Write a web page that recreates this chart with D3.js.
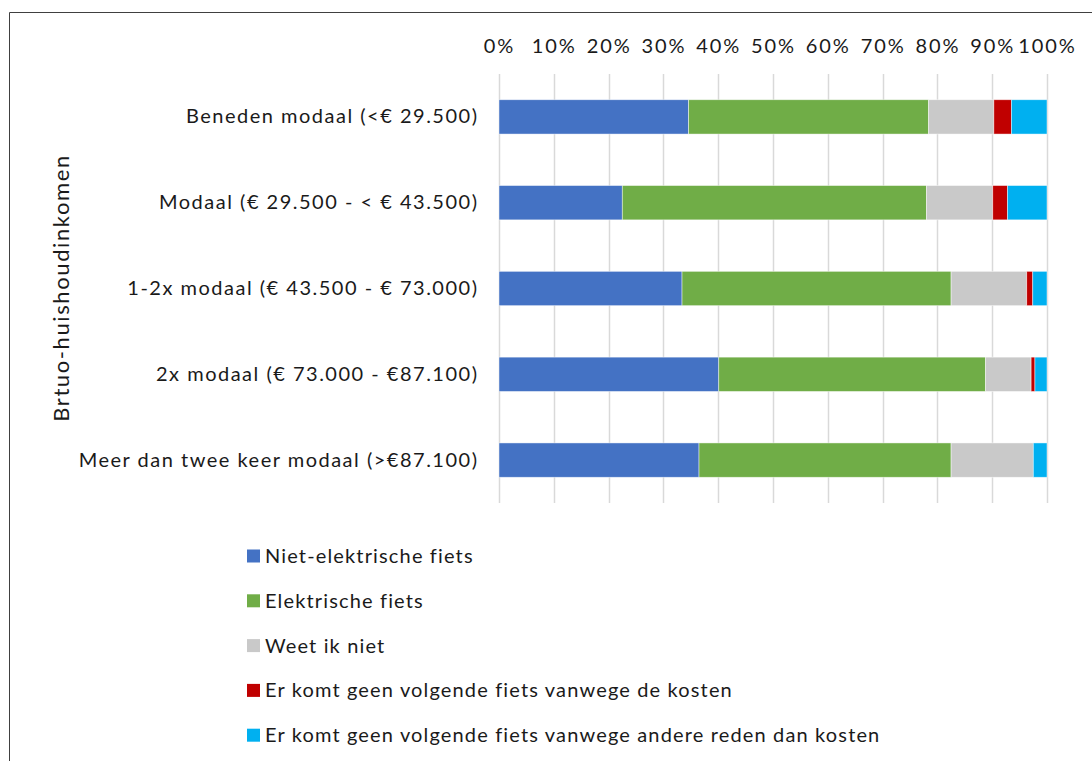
<!DOCTYPE html>
<html>
<head>
<meta charset="utf-8">
<script src="https://cdn.jsdelivr.net/npm/d3@7"></script>
<style>
  html, body { margin: 0; padding: 0; background: #fff; }
  svg { display: block; font-family: Carlito, Calibri, Lato, "Open Sans", sans-serif; }
</style>
</head>
<body>
<svg id="chart" width="1092" height="761"></svg>
<script>
// Income groups (top to bottom)
const categories = [
  "Beneden modaal (<€ 29.500)",
  "Modaal (€ 29.500 - < € 43.500)",
  "1-2x modaal (€ 43.500 - € 73.000)",
  "2x modaal (€  73.000 - €87.100)",
  "Meer dan twee keer modaal (>€87.100)"
];

// Answer options, in stacking order
const seriesNames = [
  "Niet-elektrische fiets",
  "Elektrische fiets",
  "Weet ik niet",
  "Er komt geen volgende fiets vanwege de kosten",
  "Er komt geen volgende fiets vanwege andere reden dan kosten"
];
const seriesColors = ["#4472c4", "#70ad47", "#c9c9c9", "#c00000", "#00b0f0"];

// Shares (%) per income group, one array per answer option
const nietElektrisch = [34.6, 22.5, 33.4, 40.1, 36.5];
const elektrisch     = [43.8, 55.5, 49.1, 48.7, 46.0];
const weetIkNiet     = [11.9, 12.1, 13.8,  8.3, 15.0];
const geenKosten     = [ 3.2,  2.7,  1.1,  0.7,  0.0];
const geenAndere     = [ 6.5,  7.2,  2.6,  2.2,  2.5];

const tickValues = [0, 10, 20, 30, 40, 50, 60, 70, 80, 90, 100];
const yTitle = "Brtuo-huishoudinkomen";

const seriesValues = [nietElektrisch, elektrisch, weetIkNiet, geenKosten, geenAndere];
const rows = categories.map((c, i) => {
  const r = { cat: c };
  seriesNames.forEach((s, k) => { r[s] = seriesValues[k][i]; });
  return r;
});
const stacked = d3.stack().keys(seriesNames)(rows);

const svg = d3.select("#chart");
const FONT = "Lato, 'Open Sans', sans-serif";
const SP_CAT = 1.5;   // letter spacing, category labels
const SP_LEG = 1.15;  // letter spacing, legend
const SP_TICK = 1.9;  // letter spacing, percent labels

// outer frame (top and left edges visible)
svg.append("path")
  .attr("d", "M9.5,761 L9.5,12.5 L1092,12.5")
  .attr("fill", "none").attr("stroke", "#404040").attr("stroke-width", 1);

const x = d3.scaleLinear().domain([0, 100]).range([499, 1047]);
const y = d3.scaleBand().domain(categories).range([74, 503])
  .paddingInner(0.6).paddingOuter(0.3);

// vertical gridlines
svg.append("g").selectAll("line").data(tickValues).join("line")
  .attr("x1", d => Math.round(x(d)) + 0.5).attr("x2", d => Math.round(x(d)) + 0.5)
  .attr("y1", 74).attr("y2", 503)
  .attr("stroke", "#d9d9d9").attr("stroke-width", 1.5);

// top axis labels
const xAxis = d3.axisTop(x).tickValues(tickValues).tickFormat(d => d + "%").tickSize(0).tickPadding(0);
const gx = svg.append("g").attr("transform", "translate(0,53)").call(xAxis);
gx.select(".domain").remove();
gx.selectAll("text").attr("font-size", 20).attr("fill", "#1a1a1a")
  .attr("font-family", FONT).attr("letter-spacing", SP_TICK).attr("dy", 0);

// stacked bars
svg.append("g").selectAll("g").data(stacked).join("g")
  .attr("fill", (d, i) => seriesColors[i])
  .selectAll("rect").data(d => d).join("rect")
  .attr("x", d => x(d[0]))
  .attr("width", d => Math.max(0, x(d[1]) - x(d[0])))
  .attr("y", d => y(d.data.cat))
  .attr("height", y.bandwidth())
  .attr("stroke", "#ffffff").attr("stroke-opacity", 0.6).attr("stroke-width", 0.75);

// category labels
const yAxis = d3.axisLeft(y).tickSize(0).tickPadding(0);
const gy = svg.append("g").attr("transform", `translate(${477 + SP_CAT},0)`).call(yAxis);
gy.select(".domain").remove();
gy.selectAll("text").attr("font-size", 20).attr("fill", "#1a1a1a")
  .attr("font-family", FONT).attr("letter-spacing", SP_CAT);

// vertical axis title
svg.append("text")
  .attr("transform", "translate(69,288) rotate(-90)")
  .attr("text-anchor", "middle")
  .attr("font-family", FONT)
  .attr("font-size", 22).attr("letter-spacing", 1.6).attr("fill", "#1a1a1a")
  .text(yTitle);

// legend
const legend = svg.append("g").selectAll("g").data(seriesNames).join("g")
  .attr("transform", (d, i) => `translate(247,${556 + i * 44.8})`);
legend.append("rect")
  .attr("x", 0).attr("y", -6.5).attr("width", 13).attr("height", 13)
  .attr("fill", (d, i) => seriesColors[i]);
legend.append("text")
  .attr("x", 18).attr("y", 0).attr("dy", "0.35em")
  .attr("font-family", FONT)
  .attr("font-size", 20).attr("letter-spacing", SP_LEG).attr("fill", "#1a1a1a")
  .text(d => d);
</script>
</body>
</html>
